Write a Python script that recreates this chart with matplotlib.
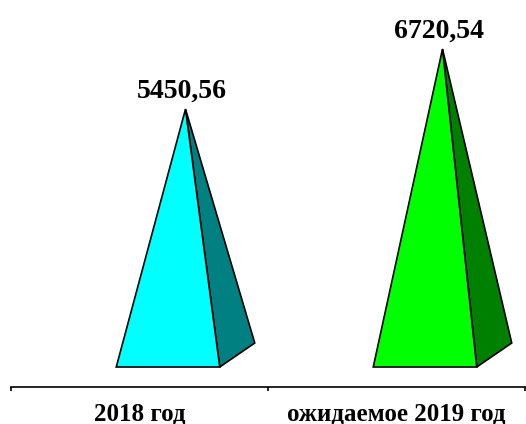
import numpy as np
import matplotlib
matplotlib.use('Agg')
import matplotlib.pyplot as plt
from matplotlib.patches import Polygon

# data
categories = ['2018 год', 'ожидаемое 2019 год']
values = [5450.56, 6720.54]
value_labels = ['5450,56', '6720,54']
front_colors = ['#00FFFF', '#00FF00']
side_colors = ['#008080', '#008000']

W, H = 526, 424
fig = plt.figure(figsize=(W / 100, H / 100), dpi=100)

# axes: bottom spine at pixel row 387, top at 0
ax = fig.add_axes([11 / W, (H - 387) / H, 1 - 11 / W, 387 / H])
px_per_val = 318 / 6720.54
ax.set_ylim(-20 / px_per_val, 367 / px_per_val)
cat_px = 257.0
ax.set_xlim(-0.5, -0.5 + (W - 11) / cat_px)

half_w = 51.75 / cat_px          # half width of front face, in category units
offset = 28.5 / cat_px           # front face shifted right of category centre
dx = 35 / cat_px                 # depth offset to the right
dy = -24 / px_per_val            # depth offset upwards (toward back)

for i, v in enumerate(values):
    cx = i + offset
    fl = (cx - half_w, 0)
    fr = (cx + half_w, 0)
    br = (cx + half_w + dx, -dy)
    apex = (cx + dx / 2, v)
    ax.add_patch(Polygon([fr, br, apex], closed=True, facecolor=side_colors[i],
                         edgecolor='black', linewidth=1.2, zorder=2))
    ax.add_patch(Polygon([fl, fr, apex], closed=True, facecolor=front_colors[i],
                         edgecolor='black', linewidth=1.2, zorder=3))
    ax.text(apex[0] - 3.5 / cat_px, v + 5 / px_per_val, value_labels[i],
            ha='center', va='bottom',
            fontsize=20, fontweight='bold', family='Liberation Serif')

for s in ['top', 'right', 'left']:
    ax.spines[s].set_visible(False)
ax.spines['bottom'].set_linewidth(1.2)
ax.set_yticks([])
ax.set_xticks([-0.5, 0.5, 1.5])
ax.set_xticklabels([])
ax.tick_params(axis='x', which='major', length=3, width=1.2, direction='out')
ax.set_xticks([0, 1], minor=True)
ax.set_xticklabels(categories, minor=True, fontsize=18, fontweight='bold',
                   family='Liberation Serif')
ax.tick_params(axis='x', which='minor', length=0, pad=11)

fig.savefig('out.png', dpi=100)
